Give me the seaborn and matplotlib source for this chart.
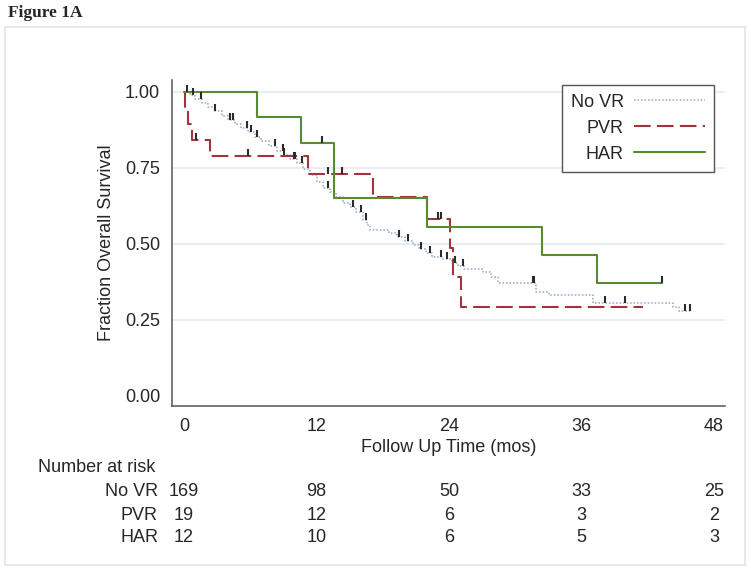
import numpy as np
import pandas as pd
import matplotlib
matplotlib.use("Agg")
import matplotlib.pyplot as plt
import matplotlib.transforms as mtransforms
from matplotlib.path import Path
from matplotlib.patches import Rectangle
import seaborn as sns

# Kaplan-Meier step curves (value holds from t until the next t)
novr_time = [0, 0.5, 1.0, 1.6, 2.2, 2.8, 3.4, 4.0, 4.6, 5.2, 5.8, 6.4, 7.0, 7.7, 8.4, 9.1, 9.6,
             10.2, 10.8, 11.4, 12.0, 12.6, 13.2, 13.8, 14.4, 15.0, 15.6, 16.2, 16.6, 16.8,
             18.6, 19.3, 20.0, 20.7, 21.3, 21.9, 22.5, 23.4, 24.3, 24.8, 25.4, 27.1, 27.8,
             28.4, 31.9, 33.1, 37.0, 44.3, 44.8, 45.8]
novr_surv = [1.0, 0.989, 0.977, 0.963, 0.95, 0.936, 0.922, 0.908, 0.894, 0.881, 0.867, 0.853,
             0.839, 0.823, 0.807, 0.791, 0.78, 0.765, 0.748, 0.728, 0.705, 0.685, 0.67, 0.655,
             0.636, 0.621, 0.606, 0.58, 0.563, 0.545, 0.535, 0.522, 0.51, 0.496, 0.482, 0.47,
             0.458, 0.449, 0.437, 0.428, 0.417, 0.409, 0.39, 0.372, 0.343, 0.332, 0.305,
             0.292, 0.281, 0.281]
novr_cens = [0.24, 0.8, 1.5, 2.8, 4.2, 4.4, 5.7, 6.1, 6.6, 8.2, 9.0, 9.1, 9.95, 10.05, 10.7,
             13.0, 15.3, 16.0, 16.5, 19.5, 20.3, 21.5, 22.3, 23.3, 23.8, 24.5, 25.3, 31.6,
             31.7, 38.1, 39.9, 45.4, 45.8]

pvr_time = [0, 0.1, 0.4, 0.7, 2.35, 11.25, 17.1, 22.0, 24.1, 24.4, 25.1, 41.6]
pvr_surv = [1.0, 0.947, 0.895, 0.842, 0.789, 0.729, 0.656, 0.582, 0.487, 0.39, 0.294, 0.294]
pvr_cens = [1.1, 5.8, 13.0, 14.3, 23.0, 23.3]

har_time = [0, 6.6, 10.6, 13.6, 22.05, 32.4, 37.4, 43.3]
har_surv = [1.0, 0.917, 0.833, 0.65, 0.556, 0.463, 0.37, 0.37]
har_cens = [12.5, 43.3]

groups = ["No VR", "PVR", "HAR"]
risk_times = [0, 12, 24, 36, 48]
risk_novr = [169, 98, 50, 33, 25]
risk_pvr = [19, 12, 6, 3, 2]
risk_har = [12, 10, 6, 5, 3]
y_ticks = [0.0, 0.25, 0.5, 0.75, 1.0]

colors = {"No VR": "#8fa7c4", "PVR": "#a3323c", "HAR": "#5a8a30"}
dashes = {"No VR": (1, 1.3), "PVR": (8, 3), "HAR": ""}

curves = pd.concat([
    pd.DataFrame({"time": novr_time, "surv": novr_surv, "group": "No VR"}),
    pd.DataFrame({"time": pvr_time, "surv": pvr_surv, "group": "PVR"}),
    pd.DataFrame({"time": har_time, "surv": har_surv, "group": "HAR"}),
], ignore_index=True)


def at_time(t, s, ct):
    idx = np.searchsorted(np.array(t), np.array(ct), side="right") - 1
    return np.array(s)[idx]


cens = pd.DataFrame({
    "time": novr_cens + pvr_cens + har_cens,
    "surv": np.concatenate([at_time(novr_time, novr_surv, novr_cens),
                            at_time(pvr_time, pvr_surv, pvr_cens),
                            at_time(har_time, har_surv, har_cens)]),
})

sns.set_style("white")
plt.rcParams["font.family"] = ["Liberation Sans", "DejaVu Sans"]
plt.rcParams["font.size"] = 13

fig = plt.figure(figsize=(7.51, 5.70), dpi=100)
fig.patches.append(Rectangle((5 / 751, 5 / 570), 740 / 751, 538 / 570, transform=fig.transFigure,
                             fill=False, edgecolor="#e8e8e8", linewidth=1.5))
ax = fig.add_axes([172 / 751, 1 - 406 / 570, 553 / 751, 326.2 / 570])

sns.lineplot(data=curves, x="time", y="surv", hue="group", style="group",
             hue_order=groups, style_order=groups, palette=colors, dashes=dashes,
             drawstyle="steps-post", estimator=None, sort=False, linewidth=1.5, ax=ax)
for line in ax.get_lines():
    if line.get_color() == colors["No VR"]:
        line.set_linewidth(1.1)

# censoring spikes drawn upward from the curve
spike = Path([(0, 0), (0, 1)])
sns.scatterplot(data=cens, x="time", y="surv", marker=spike, s=110, color="#2b2b2b",
                edgecolor="#2b2b2b", linewidth=1.5, legend=False, zorder=4, ax=ax)

ax.set_xlim(-1.09, 49.0)
ax.set_ylim(-0.033, 1.04)
ax.set_xticks(risk_times)
ax.set_yticks(y_ticks)
ax.set_yticklabels([f"{v:.2f}" for v in y_ticks])
ax.yaxis.grid(True, color="#e4ebf2", linewidth=1.2)
ax.get_ygridlines()[0].set_visible(False)
ax.set_axisbelow(True)
sns.despine(ax=ax)
for sp in ["left", "bottom"]:
    ax.spines[sp].set_color("#555555")
    ax.spines[sp].set_linewidth(1.1)
ax.tick_params(axis="x", length=4.3, width=1, color="#555555", pad=4.5, labelsize=13)
ax.tick_params(axis="y", length=5, width=1, color="#555555", pad=3.6, labelsize=13)

ax.set_xlabel("Follow Up Time (mos)", fontsize=13)
ax.set_ylabel("Fraction Overall Survival", fontsize=13)
ax.xaxis.set_label_coords(0.5, -0.102)
ax.yaxis.set_label_coords(-0.103, 0.5)

handles, labels = ax.get_legend_handles_labels()
for h in handles:
    if h.get_label() == "No VR":
        h.set_linewidth(1.1)
leg = ax.legend(handles, labels, loc="upper right", bbox_to_anchor=(0.98, 0.985),
                borderaxespad=0, markerfirst=False, handlelength=3.9, handletextpad=0.6,
                labelspacing=0.5, borderpad=0.5, fancybox=False, framealpha=1,
                edgecolor="#555555", fontsize=13)
leg.get_frame().set_linewidth(1.0)

# number at risk table
trans = mtransforms.blended_transform_factory(ax.transData, fig.transFigure)
fig.text(38 / 751, 1 - 467 / 570, "Number at risk", fontsize=13, va="center", ha="left")
rows = [("No VR", risk_novr, 492), ("PVR", risk_pvr, 515), ("HAR", risk_har, 538)]
for name, counts, ypx in rows:
    fig.text(158 / 751, 1 - ypx / 570, name, fontsize=13, va="center", ha="right")
    for t, n in zip(risk_times, counts):
        ax.text(t, 1 - ypx / 570, str(n), transform=trans, fontsize=13,
                va="center", ha="center", clip_on=False)

fig.text(8 / 751, 1 - 13 / 570, "Figure 1A", fontsize=12.5, fontweight="bold",
         family=["Liberation Serif", "DejaVu Serif"], va="center", ha="left")

fig.savefig("out.png", dpi=100)
